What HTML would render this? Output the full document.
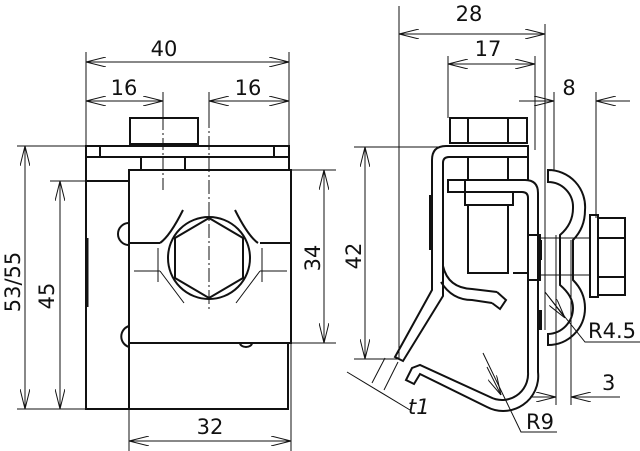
<!DOCTYPE html>
<html><head><meta charset="utf-8"><style>
html,body{margin:0;padding:0;background:#fff}
svg{display:block}
text{font-family:"DejaVu Sans","Liberation Sans",sans-serif;font-size:21px;fill:#111}
</style></head><body>
<svg width="640" height="451" viewBox="0 0 640 451" xmlns="http://www.w3.org/2000/svg">
<defs>
<marker id="a" viewBox="0 0 20 10" refX="20" refY="5" markerWidth="20" markerHeight="10" markerUnits="userSpaceOnUse" orient="auto-start-reverse">
<path d="M0,0 L20,5 L0,10" fill="none" stroke="#111" stroke-width="1"/></marker>
</defs>
<g fill="none" stroke="#111" stroke-width="1">
<line x1="86" y1="52" x2="86" y2="146"/><line x1="289" y1="52" x2="289" y2="146"/>
<line x1="86" y1="62" x2="289" y2="62" marker-start="url(#a)" marker-end="url(#a)"/>
<line x1="163" y1="92" x2="163" y2="118"/><line x1="209" y1="92" x2="209" y2="118"/>
<line x1="86" y1="101" x2="163" y2="101" marker-start="url(#a)" marker-end="url(#a)"/>
<line x1="209" y1="101" x2="289" y2="101" marker-start="url(#a)" marker-end="url(#a)"/>
<line x1="17" y1="146" x2="86" y2="146"/><line x1="17" y1="409" x2="86" y2="409"/>
<line x1="25" y1="146" x2="25" y2="409" marker-start="url(#a)" marker-end="url(#a)"/>
<line x1="50" y1="181" x2="129" y2="181"/>
<line x1="60" y1="181" x2="60" y2="409" marker-start="url(#a)" marker-end="url(#a)"/>
<line x1="291" y1="170" x2="336" y2="170"/><line x1="291" y1="343" x2="336" y2="343"/>
<line x1="324" y1="170" x2="324" y2="343" marker-start="url(#a)" marker-end="url(#a)"/>
<line x1="129" y1="343" x2="129" y2="451"/><line x1="291" y1="343" x2="291" y2="451"/>
<line x1="129" y1="441" x2="291" y2="441" marker-start="url(#a)" marker-end="url(#a)"/>
<line x1="163" y1="118" x2="163" y2="190" stroke-dasharray="12,3,2,3"/>
<line x1="209" y1="92" x2="209" y2="310" stroke-dasharray="14,3,2,3"/>
<line x1="399" y1="6" x2="399" y2="358"/><line x1="545" y1="24" x2="545" y2="170"/>
<line x1="399" y1="34" x2="545" y2="34" marker-start="url(#a)" marker-end="url(#a)"/>
<line x1="448" y1="56" x2="448" y2="118"/><line x1="535" y1="56" x2="535" y2="150"/>
<line x1="448" y1="64" x2="535" y2="64" marker-start="url(#a)" marker-end="url(#a)"/>
<line x1="554" y1="92" x2="554" y2="170"/><line x1="596" y1="92" x2="596" y2="218"/>
<line x1="519" y1="101" x2="554" y2="101" marker-end="url(#a)"/>
<line x1="630" y1="101" x2="596" y2="101" marker-end="url(#a)"/>
<line x1="354" y1="147" x2="438" y2="147"/><line x1="354" y1="359" x2="400" y2="359"/>
<line x1="365" y1="147" x2="365" y2="359" marker-start="url(#a)" marker-end="url(#a)"/>
<line x1="556" y1="300" x2="556" y2="405"/><line x1="571" y1="300" x2="571" y2="405"/>
<line x1="530" y1="397" x2="556" y2="397" marker-end="url(#a)"/>
<line x1="620" y1="397" x2="571" y2="397" marker-end="url(#a)"/>
<polyline points="483,353 521,432 557,432"/>
<line x1="487" y1="367" x2="501" y2="395" marker-end="url(#a)"/>
<polyline points="545,292 585,342 640,342"/>
<line x1="545" y1="292" x2="565" y2="318" marker-end="url(#a)"/>
<line x1="347" y1="372" x2="410" y2="410"/>
<line x1="385" y1="358" x2="372" y2="383"/><line x1="398" y1="362" x2="384" y2="390"/>
<g stroke-width="2">
<rect x="130" y="118" width="68" height="26"/>
<rect x="86" y="146" width="203" height="11"/>
<line x1="100" y1="146" x2="100" y2="157"/><line x1="274" y1="146" x2="274" y2="157"/>
<polyline points="129,181 86,181 86,409 288,409 288,343"/>
<line x1="86" y1="157" x2="86" y2="181"/><line x1="289" y1="157" x2="289" y2="170"/>
<rect x="129" y="170" width="162" height="173"/>
<line x1="141" y1="157" x2="141" y2="170"/><line x1="185" y1="157" x2="185" y2="170"/>
<path d="M129,223 A11,11 0 0 0 129,245"/><path d="M129,326 A11,11 0 0 0 129,347"/>
<line x1="129" y1="343" x2="129" y2="409"/>
<line x1="129" y1="243" x2="160" y2="243"/><line x1="260" y1="243" x2="291" y2="243"/>
<path d="M160,243 Q170,236 183,210"/><path d="M258,243 Q248,236 235,210"/>
<circle cx="209" cy="258" r="41"/>
<polygon points="209,218 243,238 243,278 209,298 175,278 175,238"/>
<line x1="87" y1="238" x2="87" y2="307" stroke-width="3"/>
<path d="M240,343 A6,4 0 0 0 252,343"/>
</g>
<g stroke-width="1">
<line x1="134" y1="271" x2="160" y2="271"/><line x1="260" y1="271" x2="287" y2="271"/>
<line x1="158" y1="248" x2="158" y2="282"/><line x1="262" y1="248" x2="262" y2="282"/>
<line x1="160" y1="271" x2="184" y2="303"/><line x1="260" y1="271" x2="236" y2="303"/>
</g>
<g stroke-width="2">
<rect x="450" y="118" width="77" height="25"/>
<line x1="468" y1="118" x2="468" y2="143"/><line x1="508" y1="118" x2="508" y2="143"/>
<path d="M528,146 L446,146 Q432,146 432,160 L432,290 L395,357 L403,361 L443,296 L443,163 Q443,157 449,157 L528,157 Z"/>
<line x1="528" y1="146" x2="528" y2="180"/>
<line x1="468" y1="157" x2="468" y2="180"/><line x1="508" y1="157" x2="508" y2="180"/>
<path d="M448,180 L525,180 Q538,180 538,193 L538,372 A35,35 0 0 1 487,407 L420,374 L414,384 L406,380 L412,368 L420,365 L490,397 A26,26 0 0 0 528,372 L528,198 Q528,192 522,192 L448,192 Z"/>
<line x1="465" y1="192" x2="465" y2="180"/>
<path d="M465,192 L465,205 L513,205 L513,192"/>
<rect x="468" y="205" width="40" height="68"/>
<line x1="513" y1="273" x2="528" y2="273"/>
<rect x="528" y="235" width="12" height="45"/>
<path d="M443,266 Q448,288 472,289 L497,292"/>
<path d="M441,282 Q452,300 472,300 L492,303"/>
<path d="M497,292 L506,300 L500,309 L492,303"/>
<line x1="431" y1="195" x2="431" y2="250" stroke-width="4"/>
<line x1="540" y1="240" x2="540" y2="260" stroke-width="4"/>
<line x1="540" y1="310" x2="540" y2="330" stroke-width="4"/>
<path d="M548,170 A37,37 0 0 1 585,210 Q585,228 573,240 L573,280 Q585,292 585,308 A37,37 0 0 1 548,345 L548,334 A26,26 0 0 0 573,308 Q573,296 560,285 L560,235 Q573,224 573,208 A25,25 0 0 0 548,182 Z"/>
<rect x="590" y="215" width="8" height="82"/>
<rect x="598" y="218" width="27" height="77"/>
<line x1="598" y1="238" x2="625" y2="238"/><line x1="598" y1="277" x2="625" y2="277"/>
</g>
<g stroke-width="1">
<line x1="540" y1="238" x2="590" y2="238"/><line x1="540" y1="275" x2="590" y2="275"/>
<line x1="545" y1="170" x2="545" y2="330"/><line x1="556" y1="235" x2="556" y2="300"/><line x1="571" y1="240" x2="571" y2="300"/>
</g>
</g>
<text x="164" y="56" text-anchor="middle">40</text>
<text x="124" y="95" text-anchor="middle">16</text>
<text x="248" y="95" text-anchor="middle">16</text>
<text x="469" y="21" text-anchor="middle">28</text>
<text x="488" y="56" text-anchor="middle">17</text>
<text x="569" y="95" text-anchor="middle">8</text>
<text x="210" y="434" text-anchor="middle">32</text>
<text x="0" y="0" transform="translate(20,282) rotate(-90)" text-anchor="middle">53/55</text>
<text x="0" y="0" transform="translate(54,296) rotate(-90)" text-anchor="middle">45</text>
<text x="0" y="0" transform="translate(320,258) rotate(-90)" text-anchor="middle">34</text>
<text x="0" y="0" transform="translate(361,256) rotate(-90)" text-anchor="middle">42</text>
<text x="588" y="338">R4.5</text>
<text x="602" y="390">3</text>
<text x="526" y="429">R9</text>
<text x="408" y="414" font-style="italic">t1</text>
</svg>
</body></html>
